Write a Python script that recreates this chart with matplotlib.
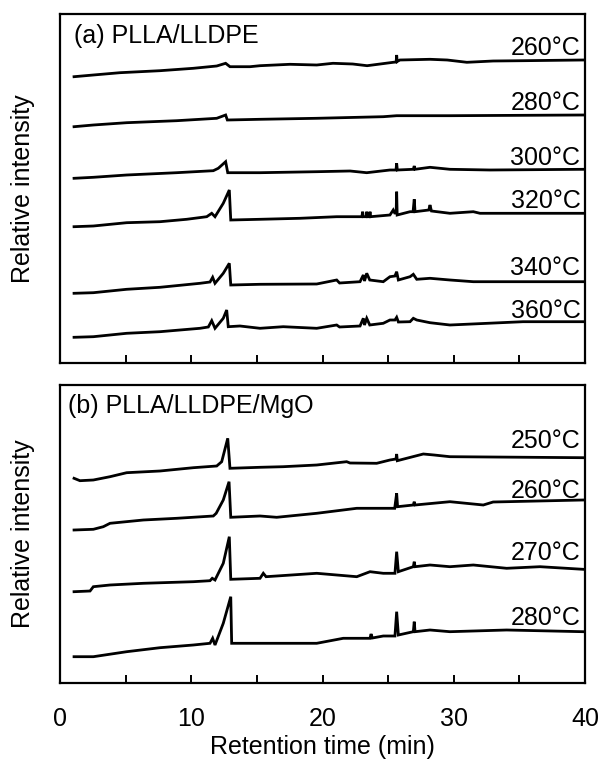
import matplotlib

matplotlib.use("Agg")
import matplotlib.pyplot as plt
import numpy as np

plt.rcParams["font.family"] = ["Liberation Sans", "DejaVu Sans"]

# Retention time [min] / relative intensity [a.u.].
# (a) PLLA/LLDPE
t_a260 = [1.07, 2.54, 4.57, 7.62, 10.16, 11.94, 12.62, 12.95, 14.48, 15.24, 17.52, 19.56,
          20.8, 22.3, 23.4, 25.39, 25.61, 25.65, 25.69, 25.9, 28.19, 29.5, 31.0, 33.0,
          35.28, 39.85]
i_a260 = [0, 1.7, 4.0, 6.0, 8.4, 10.7, 13.4, 10.0, 10.0, 11.0, 12.4, 11.7,
          13.4, 12.7, 11.0, 14.4, 14.7, 21.7, 15.2, 16.7, 17.4, 16.7, 14.4, 15.7,
          16.0, 16.7]

t_a280 = [1.07, 2.54, 5.08, 8.89, 11.94, 12.62, 12.75, 15.24, 19.56, 24.63, 25.65, 29.71,
          39.85]
i_a280 = [0, 1.7, 4.0, 6.0, 8.4, 11.7, 6.7, 7.4, 8.4, 10.0, 11.0, 11.0, 11.7]

t_a300 = [1.07, 2.54, 5.08, 8.89, 11.68, 12.06, 12.62, 12.78, 15.24, 19.56, 22.10, 23.37,
          25.14, 25.6, 25.65, 25.7, 26.92, 26.99, 27.05, 28.19, 29.71, 32.76, 39.85]
i_a300 = [0, 1.0, 3.3, 5.6, 7.6, 10.0, 16.6, 5.6, 5.6, 6.6, 7.3, 5.6,
          8.3, 8.3, 15.0, 8.3, 9.0, 12.3, 9.0, 11.0, 9.0, 8.3, 9.0]

t_a320 = [1.07, 2.54, 5.08, 7.62, 9.65, 11.18, 11.56, 11.81, 12.44, 12.90, 13.01, 15.24,
          18.29, 21.08, 23.0, 23.06, 23.1, 23.33, 23.37, 23.41, 23.58, 23.62, 23.66,
          25.14, 25.39, 25.5, 25.61, 25.65, 25.69, 26.67, 26.9, 26.99, 27.05, 28.1,
          28.19, 28.3, 29.71, 31.49, 32.0, 36.57, 39.85]
i_a320 = [0, 0.7, 4.0, 5.0, 7.4, 10.0, 13.4, 10.0, 23.4, 36.7, 6.7, 7.4,
          8.4, 10.0, 10.0, 15.0, 10.0, 10.0, 15.0, 10.0, 10.0, 15.0, 10.0,
          11.7, 16.7, 13.7, 13.7, 35.0, 11.7, 15.0, 15.0, 27.4, 15.0, 16.7,
          21.7, 15.7, 13.4, 15.0, 13.4, 13.4, 13.4]

t_a340 = [1.07, 2.54, 5.08, 7.62, 10.67, 11.43, 11.63, 11.81, 12.44, 12.90, 13.01, 15.24,
          19.56, 21.08, 21.3, 22.86, 23.11, 23.2, 23.37, 23.6, 24.63, 25.14, 25.52,
          25.65, 25.78, 26.67, 26.92, 27.18, 28.19, 29.71, 31.49, 39.85]
i_a340 = [0, 0.6, 4.0, 6.0, 10.0, 11.3, 16.0, 10.0, 20.0, 30.0, 8.3, 9.0,
          9.3, 13.3, 10.3, 11.6, 18.3, 12.3, 20.0, 13.3, 11.6, 16.6, 17.3,
          21.6, 13.3, 16.6, 19.0, 14.0, 15.0, 13.3, 11.6, 11.6]

t_a360 = [1.07, 2.54, 5.08, 7.62, 10.67, 11.3, 11.56, 11.81, 12.44, 12.70, 12.82, 13.71,
          15.24, 17.01, 19.56, 21.08, 21.3, 22.86, 23.11, 23.2, 23.37, 23.6, 24.63,
          25.14, 25.52, 25.65, 25.78, 26.67, 26.92, 27.18, 28.19, 29.71, 35.28, 39.85]
i_a360 = [0, 0.6, 4.0, 5.6, 9.0, 10.3, 16.6, 9.0, 19.0, 27.3, 10.6, 11.3,
          9.0, 10.6, 9.0, 12.3, 10.3, 11.3, 19.0, 12.3, 19.0, 12.3, 14.0,
          17.3, 17.3, 20.0, 15.3, 15.6, 19.0, 17.3, 14.6, 12.3, 15.6, 15.6]

# (b) PLLA/LLDPE/MgO
t_b250 = [1.07, 1.52, 2.54, 3.81, 5.08, 7.62, 10.16, 11.94, 12.32, 12.78, 12.95, 15.24,
          17.01, 19.56, 21.84, 22.1, 24.13, 25.14, 25.6, 25.65, 25.7, 27.68, 28.5,
          29.71, 39.85]
i_b250 = [0, -2.4, -1.7, 1.6, 5.6, 7.3, 10.6, 12.3, 16.6, 40.0, 10.0, 11.0,
          11.6, 13.3, 16.6, 15.3, 15.0, 18.3, 19.3, 24.3, 17.6, 24.3, 23.3,
          21.6, 20.6]

t_b260 = [1.07, 2.54, 3.30, 3.81, 6.35, 8.89, 11.68, 11.9, 12.44, 12.88, 13.01, 15.24,
          16.51, 19.56, 22.61, 25.5, 25.65, 25.72, 26.92, 26.99, 27.05, 29.71, 32.25,
          33.0, 39.85]
i_b260 = [0, 0.7, 3.3, 6.7, 10.0, 11.7, 14.0, 16.7, 30.0, 48.3, 12.7, 14.0,
          12.7, 16.7, 21.7, 21.7, 36.7, 23.3, 25.0, 28.3, 25.0, 28.3, 25.0,
          28.0, 30.0]

t_b270 = [1.07, 2.29, 2.54, 3.81, 6.35, 10.16, 11.43, 11.6, 11.81, 12.44, 12.90, 13.01,
          15.24, 15.49, 15.7, 19.56, 22.61, 23.62, 24.63, 25.52, 25.65, 25.78, 26.92,
          26.99, 27.05, 28.19, 29.71, 31.49, 34.03, 36.57, 39.85]
i_b270 = [0, 0.7, 5.0, 6.7, 8.4, 10.0, 11.0, 13.4, 11.7, 28.4, 55.0, 12.4,
          13.4, 18.4, 15.0, 18.4, 15.0, 20.0, 18.4, 18.4, 40.0, 20.0, 25.0,
          30.0, 25.0, 26.7, 25.0, 26.7, 23.4, 25.0, 22.4]

t_b280 = [1.07, 2.54, 5.08, 7.62, 10.16, 11.43, 11.63, 11.81, 12.44, 13.01, 13.08, 15.24,
          19.56, 21.58, 23.62, 23.7, 23.8, 24.63, 25.52, 25.65, 25.78, 26.92, 26.99,
          27.05, 28.19, 29.71, 34.03, 39.85]
i_b280 = [0, 0, 5.0, 9.0, 11.7, 13.4, 18.4, 11.7, 33.4, 60.0, 13.4, 13.4,
          13.4, 18.4, 18.4, 22.7, 18.7, 20.7, 20.7, 45.0, 21.7, 25.0, 35.0,
          25.0, 26.7, 25.0, 26.7, 25.0]

temps_a = ["260°C", "280°C", "300°C", "320°C", "340°C", "360°C"]
temps_b = ["250°C", "260°C", "270°C", "280°C"]

traces_a = [(t_a260, i_a260), (t_a280, i_a280), (t_a300, i_a300),
            (t_a320, i_a320), (t_a340, i_a340), (t_a360, i_a360)]
traces_b = [(t_b250, i_b250), (t_b260, i_b260), (t_b270, i_b270), (t_b280, i_b280)]

# Vertical stacking of the chromatograms and height of each temperature label.
offsets_a = [286.3, 236.3, 184.7, 136.3, 69.7, 25.7]
label_y_a = [308, 253, 198, 155, 88, 45]
offsets_b = [204.7, 153, 91.3, 26.3]
label_y_b = [235, 185, 123, 58]

FS = 18
W, H = 599, 760
fig = plt.figure(figsize=(W / 100, H / 100), dpi=100)


def px_axes(left, top, right, bottom):
    return fig.add_axes([left / W, 1 - bottom / H, (right - left) / W, (bottom - top) / H])


ax_a = px_axes(60, 14, 585, 363)
ax_b = px_axes(60, 385, 585, 683)

panels = [
    (ax_a, traces_a, offsets_a, temps_a, label_y_a, 349, "(a) PLLA/LLDPE", 74, 43, 363),
    (ax_b, traces_b, offsets_b, temps_b, label_y_b, 298, "(b) PLLA/LLDPE/MgO", 68, 413, 683),
]
for ax, traces, offsets, temps, label_y, ytop, title, tx, ty, ybot in panels:
    for (t, inten), off, temp, ly in zip(traces, offsets, temps, label_y):
        ax.plot(t, np.array(inten) + off, color="black", lw=2.0,
                solid_joinstyle="miter")
        ax.text(39.65, ly, temp, ha="right", va="baseline", fontsize=FS)
    ax.set_xlim(0, 40)
    ax.set_ylim(0, ytop)
    ax.set_yticks([])
    ax.set_xticks(np.arange(5, 40, 5))
    ax.tick_params(axis="x", direction="in", length=6, width=1.4, labelsize=FS, pad=17)
    for sp in ax.spines.values():
        sp.set_linewidth(1.6)
    ax.text((tx - 60) / 525, (ybot - ty) / ytop, title, transform=ax.transAxes,
            ha="left", va="baseline", fontsize=FS)
    fig.text(23 / W, 1 - ((ybot - ytop) + ybot) / 2 / H, "Relative intensity",
             rotation=90, ha="center", va="center", fontsize=FS)

ax_a.tick_params(axis="x", labelbottom=False)
ax_b.set_xticks(np.arange(0, 45, 5))
ax_b.set_xticklabels(["0", "", "10", "", "20", "", "30", "", "40"])
# hide the tick marks that sit on the frame corners
for tick in ax_b.xaxis.get_major_ticks():
    if tick.get_loc() in (0, 40):
        tick.tick1line.set_visible(False)
ax_b.set_xlabel("Retention time (min)", fontsize=FS, va="center")
ax_b.xaxis.set_label_coords(0.5, -(747 - 683) / 298)

fig.savefig("out.png", dpi=100)
